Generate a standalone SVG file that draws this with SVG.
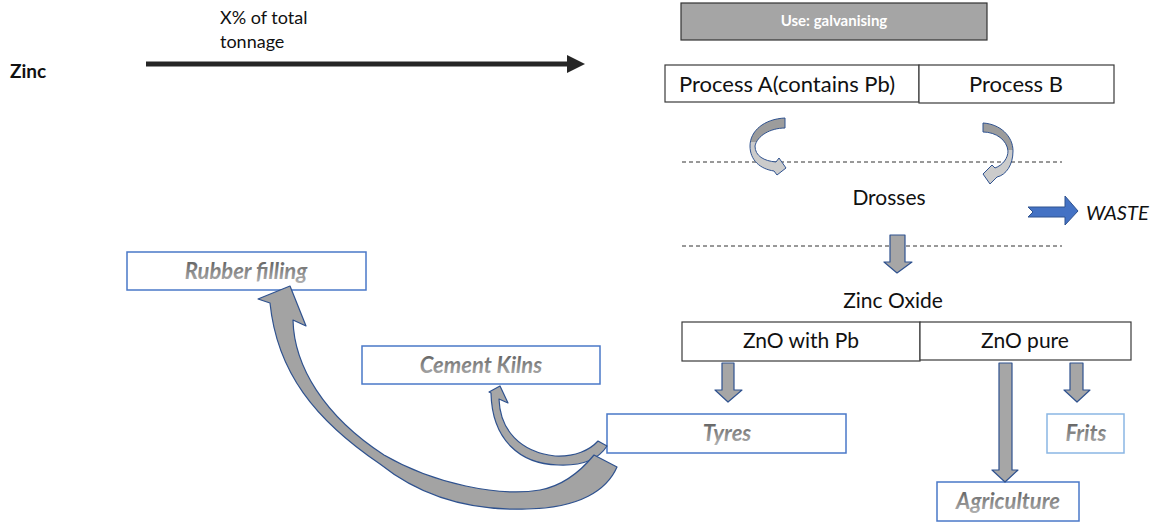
<svg xmlns="http://www.w3.org/2000/svg" width="1167" height="525" viewBox="0 0 1167 525">
<defs>
<style>
.t{font-family:Lato,"Open Sans","Liberation Sans",sans-serif;fill:#111;}
.box{fill:#fff;stroke:#3a3a3a;stroke-width:1.2;}
.ubox{fill:#fff;stroke:#4a78c8;stroke-width:1.5;}
.it{font-family:Lato,"Open Sans","Liberation Sans",sans-serif;font-weight:bold;font-style:italic;font-size:22px;fill:url(#tg);text-anchor:middle;}
.dn{fill:#a6a6a6;stroke:#2f528f;stroke-width:1.2;stroke-linejoin:round;}
.cv{fill:#a6a6a6;stroke:#2f528f;stroke-width:1.2;stroke-linejoin:round;}
.dash{stroke:#333;stroke-width:1;stroke-dasharray:4 3;fill:none;}
</style>
<linearGradient id="tg" x1="0" y1="0" x2="0" y2="1">
<stop offset="0" stop-color="#555"/>
<stop offset="1" stop-color="#b5b5b5"/>
</linearGradient>
<linearGradient id="tw1" x1="0" y1="0" x2="0" y2="1">
<stop offset="0.42" stop-color="#9c9c9c"/>
<stop offset="0.42" stop-color="#cbcbcb"/>
</linearGradient>
<linearGradient id="tw2" x1="0" y1="0" x2="0" y2="1">
<stop offset="0.45" stop-color="#9c9c9c"/>
<stop offset="0.45" stop-color="#cbcbcb"/>
</linearGradient>
</defs>
<rect width="1167" height="525" fill="#fff"/>

<g id="zinc"><text class="t" x="10" y="78" font-size="19" font-weight="bold">Zinc</text></g>
<g id="tonnage-label">
<text class="t" x="220" y="24" font-size="18">X% of total</text>
<text class="t" x="220" y="48" font-size="18">tonnage</text>
</g>

<g id="use-galvanising">
<rect x="681" y="3" width="306" height="37" fill="#a5a5a5" stroke="#333" stroke-width="1.2"/>
<text class="t" x="834" y="26" font-size="15" font-weight="bold" text-anchor="middle" style="fill:#fff">Use: galvanising</text>
</g>
<g id="process-a">
<rect class="box" x="665" y="65" width="254" height="37"/>
<text class="t" x="787" y="92" font-size="22" text-anchor="middle">Process A(contains Pb)</text>
</g>
<g id="process-b">
<rect class="box" x="919" y="65" width="195" height="38"/>
<text class="t" x="1016" y="92" font-size="22" text-anchor="middle">Process B</text>
</g>
<g id="drosses"><text class="t" x="889" y="205" font-size="21" text-anchor="middle">Drosses</text></g>
<g id="waste"><text class="t" x="1086" y="220" font-size="20" font-style="italic">WASTE</text></g>
<g id="zinc-oxide"><text class="t" x="893" y="308" font-size="21" text-anchor="middle">Zinc Oxide</text></g>
<g id="zno-pb">
<rect class="box" x="682" y="322" width="238" height="39"/>
<text class="t" x="801" y="348" font-size="21" text-anchor="middle">ZnO with Pb</text>
</g>
<g id="zno-pure">
<rect class="box" x="920" y="322" width="211" height="38"/>
<text class="t" x="1025" y="348" font-size="21" text-anchor="middle">ZnO pure</text>
</g>
<g id="tyres">
<rect class="ubox" x="607" y="414" width="239" height="39"/>
<text class="it" x="727" y="441">Tyres</text>
</g>
<g id="frits">
<rect class="ubox" x="1047" y="414" width="77" height="39" style="stroke:#8ab6e4"/>
<text class="it" x="1086" y="441">Frits</text>
</g>
<g id="agriculture">
<rect class="ubox" x="937" y="482" width="142" height="39"/>
<text class="it" x="1008" y="509">Agriculture</text>
</g>
<g id="cement-kilns">
<rect class="ubox" x="362" y="346" width="238" height="38"/>
<text class="it" x="481" y="373">Cement Kilns</text>
</g>
<g id="rubber-filling">
<rect class="ubox" x="127" y="252" width="239" height="38"/>
<text class="it" x="246" y="279">Rubber filling</text>
</g>

<g id="connectors">
<line x1="146" y1="64" x2="569" y2="64" stroke="#262626" stroke-width="5"/>
<polygon points="567,55 585,64 567,73" fill="#262626"/>
<line class="dash" x1="682" y1="162" x2="1062" y2="162"/>
<line class="dash" x1="682" y1="246" x2="1062" y2="246"/>
<path d="M785,118 L785,128 C770,128 757,136 755,146 C755,156 764,161 776,162 L779,158 L786,168 L777,175 L774,171 C760,169 750,160 750,146 C750,131 764,119 785,118 Z" fill="url(#tw1)" stroke="#2f528f" stroke-width="1" stroke-linejoin="round"/>
<path d="M983,123 C1000,124 1013,136 1013,151 C1013,165 1006,175 997,177 L990,184 L983,174 L992,165 L995,168 C1003,165 1008,158 1008,151 C1007,140 996,132 983,132 Z" fill="url(#tw2)" stroke="#2f528f" stroke-width="1" stroke-linejoin="round"/>
<polygon points="1028,207 1065,207 1065,196 1078,211 1065,225 1065,217 1028,217 1033,212" fill="#4472c4" stroke="#2f528f" stroke-width="1"/>
<polygon class="dn" points="890,235 905,235 905,262 912,262 897,273 884,262 890,262"/>
<polygon class="dn" points="722,363 734,363 734,390 742,390 728,402 715,390 722,390"/>
<polygon class="dn" points="999,363 1012,363 1012,470 1018,470 1005,482 992,470 999,470"/>
<polygon class="dn" points="1070,363 1083,363 1083,390 1090,390 1077,402 1064,390 1070,390"/>
<path class="cv" d="M500,386 L508,403 L499,399 C500,430 520,452 555,456 C575,457 590,450 598,441 L607,446 C598,460 580,466 558,465 C520,464 492,440 491,393 L489,392 Z" fill="#b8b8b8"/>
<path class="cv" d="M258,299 L290,286 L306,326 L293,320 C294,366 324,416 384,455 C434,484 500,497 540,490 C562,486 580,472 594,455 L617,467 C607,490 580,508 527,509 C470,511 420,496 380,464 C315,420 277,372 270,303 Z" style="fill:#a3a3a3"/>
</g>
</svg>
